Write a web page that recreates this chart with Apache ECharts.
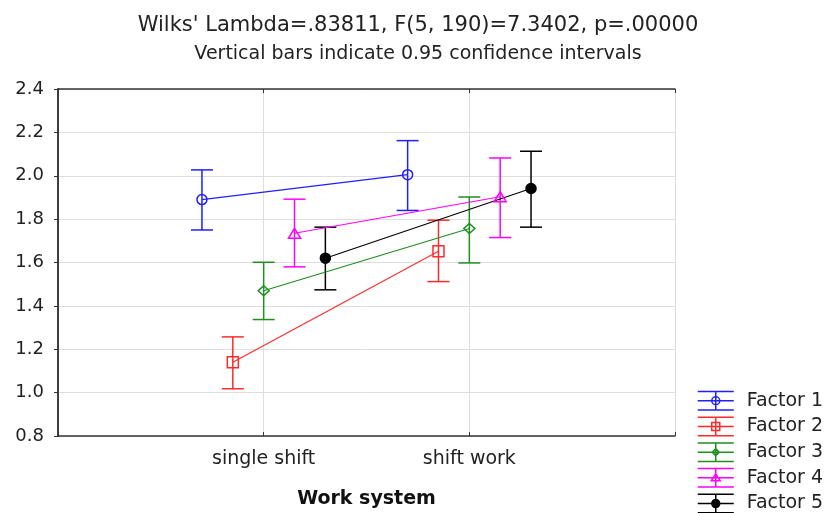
<!DOCTYPE html>
<html>
<head>
<meta charset="utf-8">
<script src="https://cdn.jsdelivr.net/npm/echarts@6/dist/echarts.min.js"></script>
<style>html,body{margin:0;padding:0;background:#fff}#chart{width:830px;height:513px}</style>
</head>
<body>
<div id="chart"></div>
<script>
// ---- data ----
const categories = ['single shift', 'shift work'];
const factorNames = ['Factor 1', 'Factor 2', 'Factor 3', 'Factor 4', 'Factor 5'];
const yTicks = [0.8, 1.0, 1.2, 1.4, 1.6, 1.8, 2.0, 2.2, 2.4];

const factor1Mean = [1.890, 2.005];
const factor1Low  = [1.750, 1.840];
const factor1High = [2.027, 2.162];

const factor2Mean = [1.140, 1.652];
const factor2Low  = [1.018, 1.512];
const factor2High = [1.257, 1.795];

const factor3Mean = [1.470, 1.757];
const factor3Low  = [1.337, 1.598];
const factor3High = [1.601, 1.902];

const factor4Mean = [1.735, 1.903];
const factor4Low  = [1.580, 1.715];
const factor4High = [1.892, 2.082];

const factor5Mean = [1.620, 1.941];
const factor5Low  = [1.474, 1.763];
const factor5High = [1.763, 2.113];

// ---- styling ----
const FONT = 'DejaVu Sans';
const colors = ['#1f1fff', '#ff2a2a', '#1f8f1f', '#ff00ff', '#000000'];
const seriesOffset = [-0.3, -0.15, 0, 0.15, 0.3];
const symbols = ['circle', 'rect', 'diamond', 'triangle', 'circle'];
const symbolSizes = [10, 11, [11, 10], [12, 10], 10];
const symbolFills = ['rgba(0,0,0,0)', 'rgba(0,0,0,0)', 'rgba(0,0,0,0)', 'rgba(0,0,0,0)', '#000000'];

const means = [factor1Mean, factor2Mean, factor3Mean, factor4Mean, factor5Mean];
const lows = [factor1Low, factor2Low, factor3Low, factor4Low, factor5Low];
const highs = [factor1High, factor2High, factor3High, factor4High, factor5High];

const baseIcon = 'M0 0.75L36 0.75M0 10L36 10M0 19.25L36 19.25M18 0L18 20';
const markerIcons = [
  'M22 10A4 4 0 1 1 14 10A4 4 0 1 1 22 10Z',
  'M14 6L22 6L22 14L14 14Z',
  'M18 6.5L21.5 10L18 13.5L14.5 10Z',
  'M18 6L22.5 13L13.5 13Z',
  'M22 10A4 4 0 1 1 14 10A4 4 0 1 1 22 10Z'
];

const catPos = (ci) => ci + 1;

const errorSeries = factorNames.map((name, si) => ({
  name: name,
  type: 'custom',
  xAxisIndex: 0,
  yAxisIndex: 0,
  data: categories.map((c, ci) => [catPos(ci) + seriesOffset[si], means[si][ci], lows[si][ci], highs[si][ci]]),
  encode: { x: 0, y: [1, 2, 3] },
  itemStyle: { color: colors[si] },
  renderItem: function (params, api) {
    const x = api.value(0);
    const pL = api.coord([x, api.value(2)]);
    const pH = api.coord([x, api.value(3)]);
    const hw = 11;
    const st = { stroke: colors[si], lineWidth: 1.5 };
    return {
      type: 'group',
      children: [
        { type: 'line', shape: { x1: pL[0], y1: pL[1], x2: pH[0], y2: pH[1] }, style: st },
        { type: 'line', shape: { x1: pH[0] - hw, y1: pH[1], x2: pH[0] + hw, y2: pH[1] }, style: st },
        { type: 'line', shape: { x1: pL[0] - hw, y1: pL[1], x2: pL[0] + hw, y2: pL[1] }, style: st }
      ]
    };
  },
  z: 2
}));

const lineSeries = factorNames.map((name, si) => ({
  name: name,
  type: 'line',
  xAxisIndex: 0,
  yAxisIndex: 0,
  data: categories.map((c, ci) => [catPos(ci) + seriesOffset[si], means[si][ci]]),
  symbol: symbols[si],
  symbolSize: symbolSizes[si],
  showSymbol: true,
  lineStyle: { color: colors[si], width: 1.1 },
  itemStyle: { color: symbolFills[si], borderColor: colors[si], borderWidth: 1.5 },
  emphasis: { disabled: true },
  z: 3
}));

const axisLineStyle = { color: '#333', width: 1.5 };
const gridLineStyle = { color: '#dedede', width: 1 };

const option = {
  animation: false,
  backgroundColor: '#fff',
  title: [
    { text: "Wilks' Lambda=.83811, F(5, 190)=7.3402, p=.00000", left: 418, top: 15, textAlign: 'center', padding: 0,
      textStyle: { fontFamily: FONT, fontSize: 21, fontWeight: 'normal', color: '#222' } },
    { text: 'Vertical bars indicate 0.95 confidence intervals', left: 418, top: 45, textAlign: 'center', padding: 0,
      textStyle: { fontFamily: FONT, fontSize: 19, fontWeight: 'normal', color: '#222' } }
  ],
  grid: { left: 58, top: 89, right: 155, bottom: 77, containLabel: false, outerBoundsMode: 'none' },
  legend: {
    orient: 'vertical',
    left: 697,
    top: 390,
    height: 140,
    itemWidth: 36,
    itemHeight: 20,
    itemGap: 4.2,
    padding: 0,
    selectedMode: false,
    textStyle: { fontFamily: FONT, fontSize: 19, color: '#222', lineHeight: 20, padding: [0, 0, 0, 8] },
    data: factorNames.map((name, si) => ({
      name: name,
      icon: 'path://' + baseIcon + markerIcons[si],
      itemStyle: { color: symbolFills[si], borderColor: colors[si], borderWidth: 1.5 }
    }))
  },
  xAxis: [
    {
      type: 'value', position: 'bottom', min: 0, max: 3, interval: 1,
      axisLine: { show: true, lineStyle: axisLineStyle },
      axisTick: { show: true, inside: true, length: 4, lineStyle: { color: '#333' } },
      axisLabel: {
        fontFamily: FONT, fontSize: 19, color: '#222', margin: 14,
        formatter: (v) => (v >= 1 && v <= categories.length && Math.abs(v - Math.round(v)) < 1e-9) ? categories[Math.round(v) - 1] : ''
      },
      splitLine: { show: true, lineStyle: gridLineStyle },
      name: 'Work system', nameLocation: 'middle', nameGap: 54,
      nameTextStyle: { fontFamily: FONT, fontSize: 19, fontWeight: 'bold', color: '#111' }
    },
    {
      type: 'value', position: 'top', min: 0, max: 3, interval: 1,
      axisLine: { show: true, lineStyle: axisLineStyle },
      axisTick: { show: true, inside: true, length: 4, lineStyle: { color: '#333' } },
      axisLabel: { show: false },
      splitLine: { show: false }
    }
  ],
  yAxis: [
    {
      type: 'value', position: 'left', min: yTicks[0], max: yTicks[yTicks.length - 1], interval: 0.2,
      axisLine: { show: true, lineStyle: axisLineStyle },
      axisTick: { show: false },
      axisLabel: { fontFamily: FONT, fontSize: 18, color: '#222', margin: 14, formatter: (v) => v.toFixed(1) },
      splitLine: { show: true, lineStyle: gridLineStyle }
    },
    {
      type: 'value', position: 'right', min: yTicks[0], max: yTicks[yTicks.length - 1], interval: 0.2,
      axisLine: { show: true, lineStyle: axisLineStyle },
      axisTick: { show: true, inside: true, length: 4, lineStyle: { color: '#333' } },
      axisLabel: { show: false },
      splitLine: { show: false }
    }
  ],
  series: errorSeries.concat(lineSeries)
};

const chart = echarts.init(document.getElementById('chart'), null, { renderer: 'canvas' });
chart.setOption(option);
</script>
</body>
</html>
